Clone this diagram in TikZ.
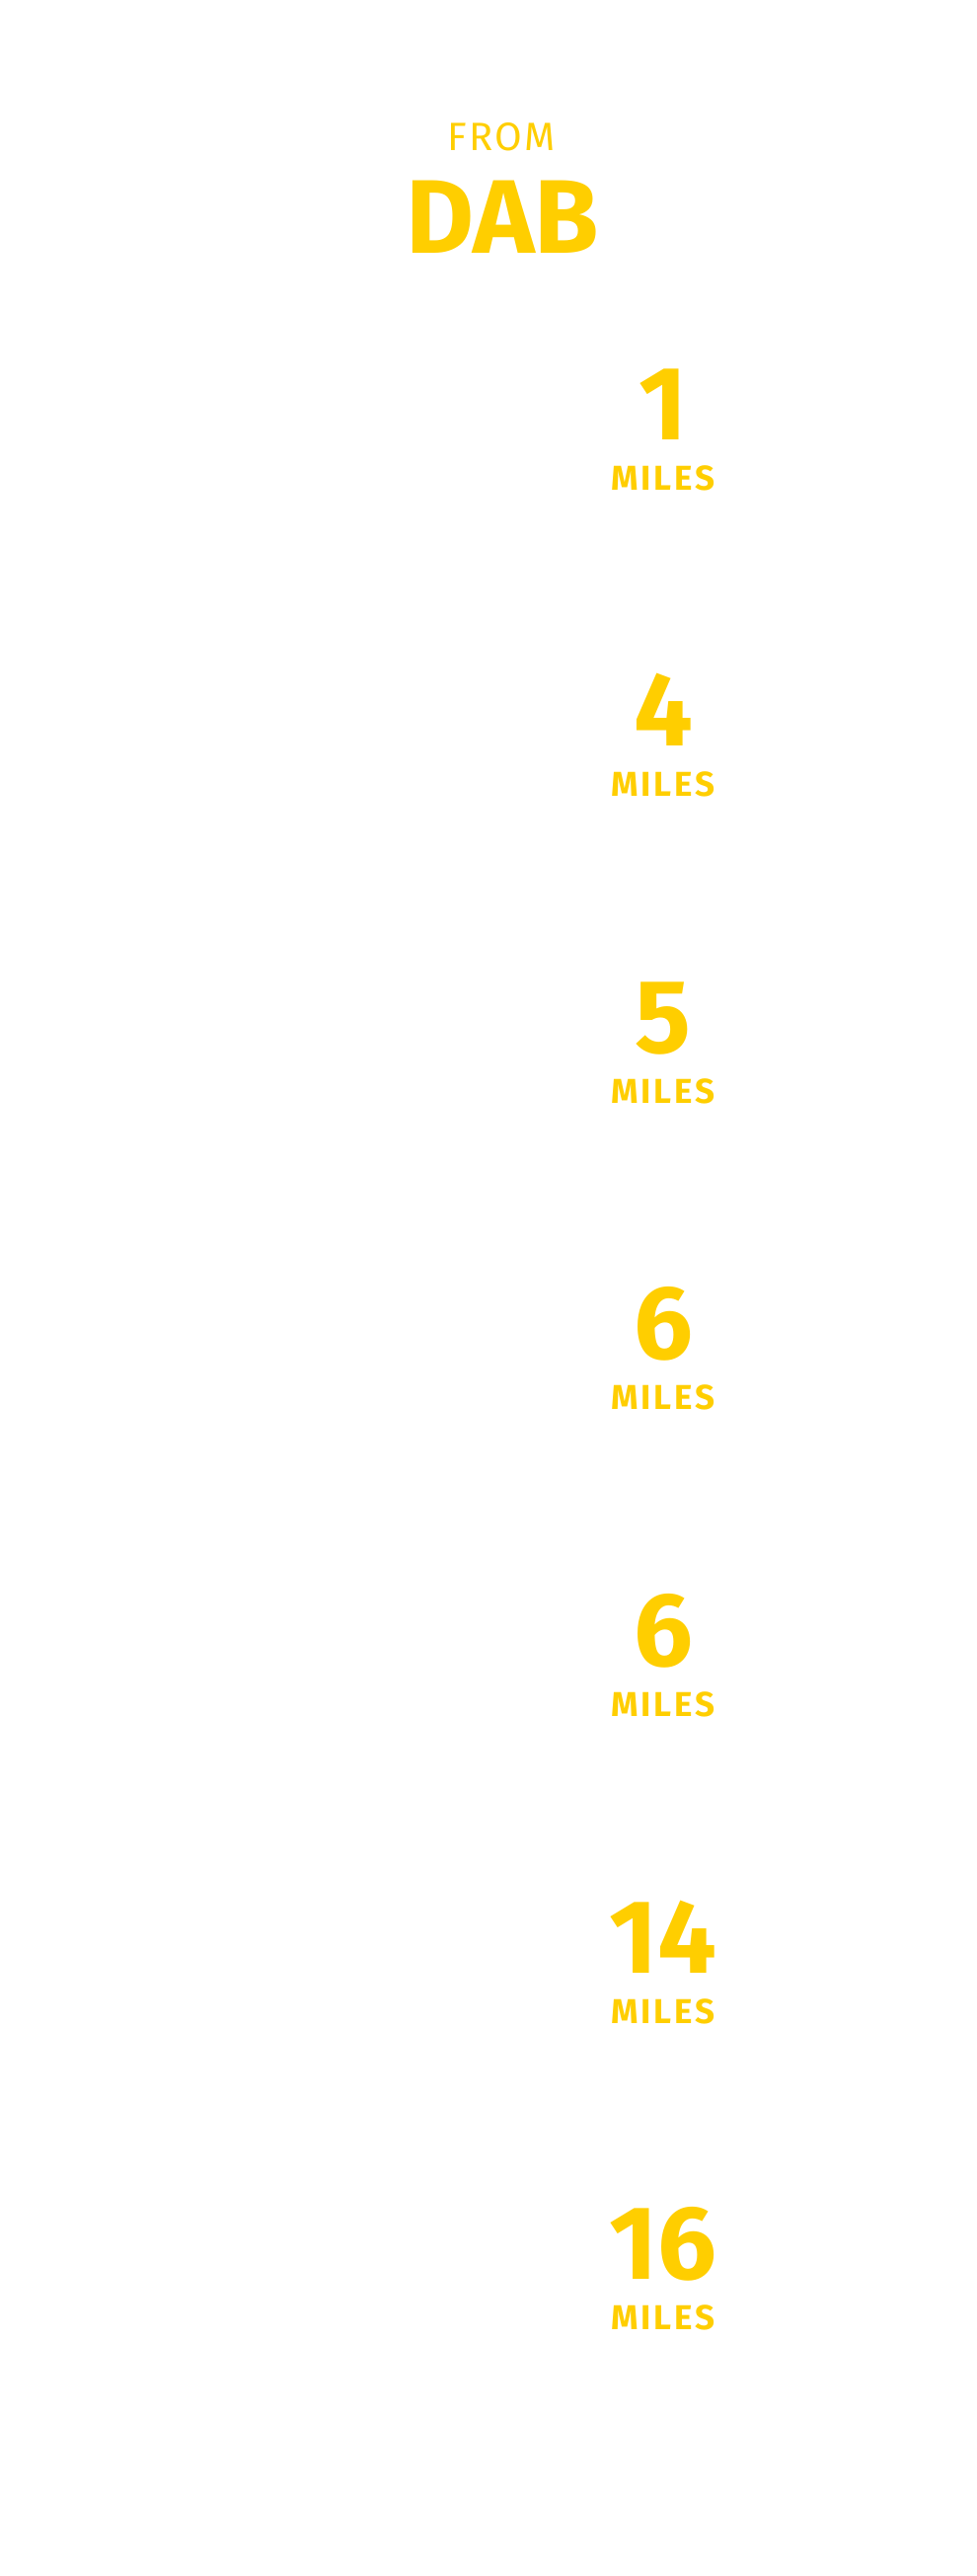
\documentclass[tikz,border=0pt]{standalone}
\usepackage{fontspec}
\setmainfont{Fira Sans}
\definecolor{gold}{HTML}{FFCE00}
\begin{document}
\begin{tikzpicture}[x=1pt,y=1pt,
  txt/.style={text=gold,inner sep=0pt,anchor=base},
  num/.style={txt,font=\fontsize{106}{110}\selectfont\bfseries},
  unit/.style={txt,font=\fontsize{35}{38}\selectfont\bfseries\addfontfeature{LetterSpace=8}}]
\useasboundingbox[fill=white] (0,0) rectangle (990,-2609);
\node[txt,font=\fontsize{40}{44}\selectfont\addfontfeature{LetterSpace=6}] (from) at (508,-153) {FROM};
\node[txt,font=\fontsize{106}{110}\selectfont\bfseries] (dab) at (509,-256) {DAB};
\foreach \n/\v [count=\i from 0] in {a/1,b/4,c/5,d/6,e/6,f/14,g/16}{
  \node[num] (\n) at (672,-445-310.6*\i) {\v};
  \node[unit] (\n m) at (672,-496-310.6*\i) {MILES};
}
\end{tikzpicture}
\end{document}
